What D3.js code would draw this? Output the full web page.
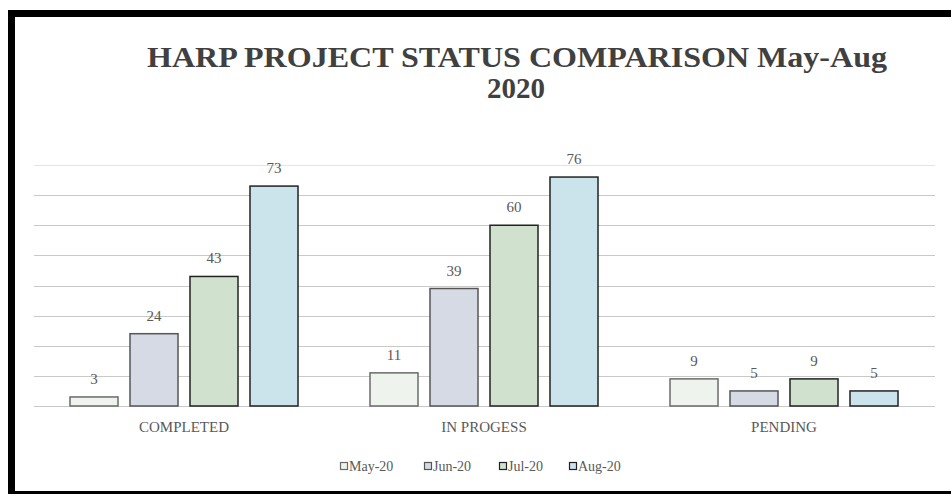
<!DOCTYPE html>
<html lang="en">
<head>
<meta charset="UTF-8">
<title>HARP Project Status Comparison</title>
<script src="https://d3js.org/d3.v7.min.js"></script>
<style>
  body {
    margin: 0;
    background: #fff;
    font-family: "Liberation Serif", "DejaVu Serif", serif;
  }
  .val, .cat, .leg {
    fill: #595959;
  }
  .title {
    fill: #404040;
    font-weight: bold;
  }
</style>
</head>
<body>
<svg id="chart"></svg>
<script>
// data
var categories = ["COMPLETED", "IN PROGESS", "PENDING"];
var months = ["May-20", "Jun-20", "Jul-20", "Aug-20"];
var may20 = [3, 11, 9];
var jun20 = [24, 39, 5];
var jul20 = [43, 60, 9];
var aug20 = [73, 76, 5];
var gridTicks = [0, 10, 20, 30, 40, 50, 60, 70, 80];

var fills = ["#eef3ee", "#d6dae4", "#d0e2cd", "#cbe3ea"];
var strokes = ["#6b6b6b", "#555", "#222", "#222"];

var seriesValues = [may20, jun20, jul20, aug20];
var rows = categories.map(function(c, i) {
  return { cat: c, vals: seriesValues.map(function(s) { return s[i]; }) };
});

var W = 951, H = 494;
var svg = d3.select("#chart").attr("width", W).attr("height", H);

// frame
svg.append("rect").attr("x", 0).attr("y", 0).attr("width", W).attr("height", H).attr("fill", "#fff");
svg.append("line").attr("x1", 8).attr("x2", W).attr("y1", 13.5).attr("y2", 13.5)
  .attr("stroke", "#000").attr("stroke-width", 7);
svg.append("line").attr("x1", 11.5).attr("x2", 11.5).attr("y1", 10).attr("y2", H)
  .attr("stroke", "#000").attr("stroke-width", 7);
svg.append("line").attr("x1", 8).attr("x2", W).attr("y1", 492.5).attr("y2", 492.5)
  .attr("stroke", "#000").attr("stroke-width", 3);

// scales
var x0 = d3.scaleBand().domain(categories).range([34, 934]).paddingInner(0).paddingOuter(0);
var x1 = d3.scaleBand().domain(months).range([36, 264]).paddingInner(0.2).paddingOuter(0);
var y = d3.scaleLinear().domain([0, 80]).range([406, 165]);

// gridlines
svg.append("g").selectAll("line")
  .data(gridTicks)
  .enter().append("line")
  .attr("x1", 34).attr("x2", 935)
  .attr("y1", function(d) { return Math.round(y(d)) + 0.5; })
  .attr("y2", function(d) { return Math.round(y(d)) + 0.5; })
  .attr("stroke", function(d) { return d >= 80 ? "#e4e4e4" : "#c9c9c9"; })
  .attr("stroke-width", 1);

// bars
var groups = svg.append("g").selectAll("g")
  .data(rows)
  .enter().append("g")
  .attr("transform", function(d) { return "translate(" + x0(d.cat) + ",0)"; });

groups.selectAll("rect")
  .data(function(d) { return d.vals.map(function(v, i) { return { m: months[i], v: v, i: i }; }); })
  .enter().append("rect")
  .attr("x", function(d) { return x1(d.m); })
  .attr("y", function(d) { return y(d.v); })
  .attr("width", x1.bandwidth())
  .attr("height", function(d) { return y(0) - y(d.v); })
  .attr("fill", function(d) { return fills[d.i]; })
  .attr("stroke", function(d) { return strokes[d.i]; })
  .attr("stroke-width", 1.5);

groups.selectAll("text")
  .data(function(d) { return d.vals.map(function(v, i) { return { m: months[i], v: v }; }); })
  .enter().append("text")
  .attr("class", "val")
  .attr("x", function(d) { return x1(d.m) + x1.bandwidth() / 2; })
  .attr("y", function(d) { return y(d.v) - 13; })
  .attr("text-anchor", "middle")
  .attr("font-size", 15)
  .text(function(d) { return d.v; });

// category labels
svg.append("g").selectAll("text")
  .data(categories)
  .enter().append("text")
  .attr("class", "cat")
  .attr("x", function(d) { return x0(d) + x0.bandwidth() / 2; })
  .attr("y", 432)
  .attr("text-anchor", "middle")
  .attr("font-size", 15)
  .text(function(d) { return d; });

// title
var title = svg.append("text").attr("class", "title").attr("text-anchor", "middle").attr("font-size", 29);
title.append("tspan").attr("x", 517).attr("y", 67)
  .attr("textLength", 740).attr("lengthAdjust", "spacingAndGlyphs")
  .text("HARP PROJECT STATUS COMPARISON May-Aug");
title.append("tspan").attr("x", 516).attr("y", 98).text("2020");

// legend
var legX = [340, 424, 499, 569];
var leg = svg.append("g").selectAll("g")
  .data(months)
  .enter().append("g")
  .attr("transform", function(d, i) { return "translate(" + legX[i] + ",466)"; });
leg.append("rect")
  .attr("x", 0.5).attr("y", -3.5).attr("width", 7).attr("height", 7)
  .attr("fill", function(d, i) { return fills[i]; })
  .attr("stroke", function(d, i) { return strokes[i]; })
  .attr("stroke-width", 1.2);
leg.append("text")
  .attr("class", "leg")
  .attr("x", 9).attr("y", 5)
  .attr("font-size", 14)
  .text(function(d) { return d; });
</script>
</body>
</html>
